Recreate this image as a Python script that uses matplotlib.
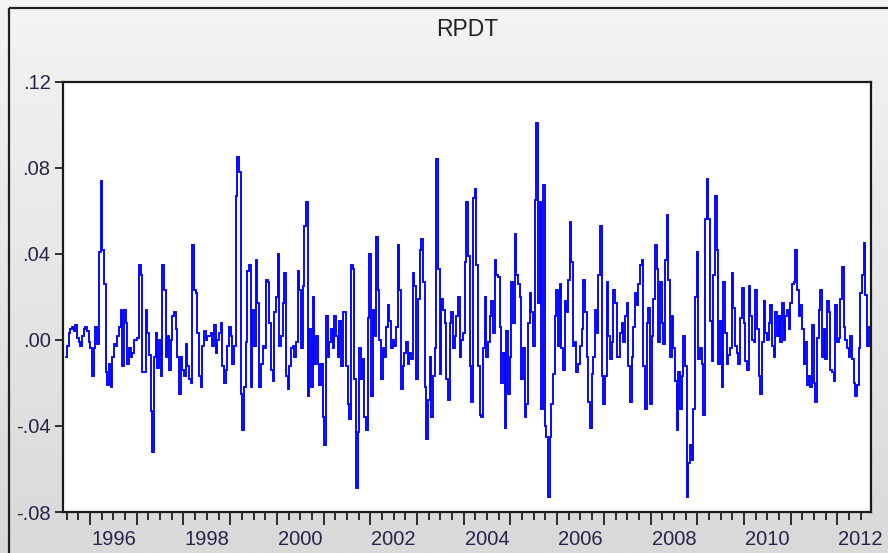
import numpy as np
import matplotlib
matplotlib.use("Agg")
import matplotlib.pyplot as plt
from matplotlib.colors import LinearSegmentedColormap
from matplotlib.ticker import MultipleLocator

# ---------------- data ----------------
title = "RPDT"
start_year = 1995.49   # first observation (fractional year)
end_year = 2012.69     # last observation (fractional year)

rpdt_1995_1998 = [
    -.008, -.003, .003, .005, .006, .004, .007, .001, -.001, -.003,
    .002, .005, .006, .004, -.001, -.004, -.017, -.004, .006, -.002,
    .041, .074, .042, .026, -.015, -.021, -.011, -.022, -.008, -.002,
    -.003, .002, .006, .014, -.012, .014, .008, -.011, -.004, -.008,
    -.006, .000, .000, .001, .035, .030, -.015, -.015, .014, .003,
    -.007, -.033, -.052, -.008, .003, -.013, .000, -.017, .035, .023,
    -.008, .002, -.014, .000, .011, .013, .005, -.008, -.025, -.008,
    -.014, -.017, -.002, -.012, -.018, -.020, .044, .023, .022, .003,
    -.017, -.022, -.003, .004, .000, .002, .002, .003, -.003, .007,
    -.006, .000, .003, .008, -.012, -.020,
]
rpdt_1998_2002 = [
    -.014, -.003, .006, .002, -.011, -.003, .067, .085, .078, -.025,
    -.042, -.022, -.001, .032, .035, -.022, .014, -.003, .037, .017,
    -.022, -.011, -.003, -.004, .028, .027, .008, -.014, -.019, .013,
    .020, .040, -.003, .002, .017, .031, -.017, -.023, -.012, -.004,
    -.003, -.008, -.001, .032, .023, -.004, .025, .053, .064, -.026,
    .005, -.022, .020, -.011, .002, -.011, -.021, -.011, -.036, -.049,
    .011, -.008, -.001, .005, -.004, .011, .002, -.008, .009, -.012,
    .013, .013, -.012, -.030, -.037, .035, .033, -.018, -.069, -.043,
    -.004, -.018, -.009, -.036, -.042, .010, .040, -.026, .014, .002,
    .048, .023, .000, -.018, -.004, -.008, .006,
]
rpdt_2002_2005 = [
    .016, .009, -.004, .000, -.003, .006, .044, .023, -.023, -.012,
    -.006, -.001, -.011, -.006, -.009, .031, .025, -.018, .019, .042,
    .047, .027, -.022, -.046, -.028, -.008, -.036, -.017, -.004, .084,
    .033, -.016, .019, .014, .008, -.018, -.028, .008, .013, -.004,
    .002, .011, .020, -.008, .000, .003, .036, .064, .039, -.012,
    -.029, .066, .070, .035, -.012, -.035, -.036, -.004, .020, -.008,
    -.001, .011, .018, .003, .037, .030, .029, .006, -.020, -.006,
    -.041, .004, -.025, -.008, .027, .008, .049, .030, .026, .020,
    -.018, -.004, -.036, -.030, .008, .022, .013, -.003, .065, .101,
    .017, .064, -.032, .072, -.040, -.045, -.073,
]
rpdt_2005_2009 = [
    -.045, -.030, -.016, .011, .023, -.003, .026, -.004, -.014, .018,
    .013, .028, .055, .036, -.003, -.001, -.015, -.011, -.003, .005,
    .028, .013, -.008, -.029, -.041, -.016, -.008, .014, .003, .030,
    .053, -.017, -.030, -.017, .027, .002, -.009, -.001, .023, .017,
    -.008, -.008, .003, .008, -.001, .011, .017, -.012, -.029, -.008,
    .006, .022, .016, .026, .035, .037, -.012, -.032, .008, .015,
    -.030, .002, .019, .044, .033, -.001, .027, .008, -.002, .037,
    .058, .028, -.008, .011, -.004, -.019, -.042, -.015, -.032, -.017,
    .002, -.012, -.073, -.057, -.049, -.056, -.032, .020, .041, -.009,
    -.004, -.011, -.035, .056, .075, .056, .009,
]
rpdt_2009_2012 = [
    -.010, .030, .067, .042, -.011, .009, -.022, .027, .003, -.011,
    -.007, -.004, .031, .015, -.003, -.006, -.011, .010, .024, .008,
    -.010, -.014, .025, .011, .000, -.001, .023, .005, -.017, -.025,
    -.001, .018, .003, .000, .008, .016, -.003, -.008, .013, .002,
    .011, -.001, .017, .000, .011, .014, .005, .017, .026, .027,
    .042, .023, .011, .016, .005, -.011, -.001, -.021, -.017, -.022,
    .007, -.020, -.029, .001, .014, .023, -.008, .005, -.009, .018,
    .013, -.014, -.015, -.019, .016, -.001, .001, .019, .034, .006,
    .000, -.004, -.008, .002, -.009, -.020, -.026, -.021, -.004, .022,
    .030, .045, .021, -.003, .006,
]

y_ticks = [-0.08, -0.04, 0.00, 0.04, 0.08, 0.12]
y_tick_labels = ["-.08", "-.04", ".00", ".04", ".08", ".12"]
year_labels = [1996, 1998, 2000, 2002, 2004, 2006, 2008, 2010, 2012]

# ---------------- figure ----------------
plt.rcParams["font.family"] = ["Liberation Sans", "DejaVu Sans"]
W, H = 888, 553
fig = plt.figure(figsize=(W / 100, H / 100), dpi=100)

# gradient background + window border
bg = fig.add_axes([0, 0, 1, 1], zorder=-10)
cmap = LinearSegmentedColormap.from_list("bg", ["#f4f4f4", "#d9d9d9"])
bg.imshow(np.linspace(0, 1, 256).reshape(-1, 1), aspect="auto", cmap=cmap,
          extent=[0, 1, 0, 1], origin="upper")
bg.set_xlim(0, 1)
bg.set_ylim(0, 1)
bg.axis("off")
bx, by = 8.5 / W, 1 - 7.5 / H
bg.plot([bx, bx], [0, by], color="#202020", lw=1.6, solid_capstyle="butt")
bg.plot([bx, 1], [by, by], color="#202020", lw=1.6, solid_capstyle="butt")

left, right, top, bottom = 63, 871, 81.7, 512
ax = fig.add_axes([left / W, 1 - bottom / H, (right - left) / W, (bottom - top) / H])
ax.set_facecolor("white")

series = np.array(rpdt_1995_1998 + rpdt_1998_2002 + rpdt_2002_2005
                  + rpdt_2005_2009 + rpdt_2009_2012)
t = np.linspace(start_year, end_year, len(series))
ax.plot(t, series, color="#0000ff", lw=1.35, drawstyle="steps-mid",
        solid_joinstyle="miter")

ax.set_xlim(1995.42, 2012.72)
ax.set_ylim(-0.08, 0.12)

label_color = "#2c2248"
ax.set_yticks(y_ticks)
ax.set_yticklabels(y_tick_labels)
ax.tick_params(axis="y", direction="out", length=6, width=1.3, pad=3,
               labelsize=14.5, labelcolor=label_color, color="#202020")

ax.set_xticks(np.arange(1996, 2013))
ax.xaxis.set_minor_locator(MultipleLocator(0.25))
ax.tick_params(axis="x", which="major", direction="out", length=9.5, width=1.3,
               labelbottom=False, color="#202020")
ax.tick_params(axis="x", which="minor", direction="out", length=5.5, width=1.3,
               color="#202020")
for yr in year_labels:
    ax.text(yr + 0.5, -0.063, str(yr), transform=ax.get_xaxis_transform(),
            ha="center", va="center", fontsize=14.5, color=label_color)

for s in ax.spines.values():
    s.set_linewidth(1.6)
    s.set_color("#1a1a1a")

fig.text((left + right) / 2 / W, 1 - 30 / H, title, ha="center", va="center",
         fontsize=16.5, color="#222222")

fig.savefig("out.png", dpi=100)
